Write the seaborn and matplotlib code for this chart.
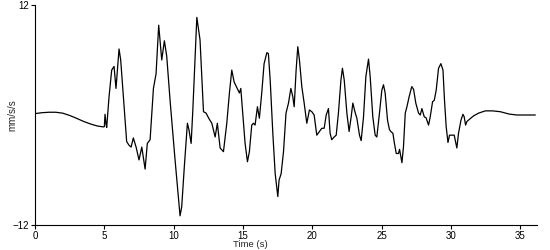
import matplotlib
matplotlib.use("Agg")
import matplotlib.pyplot as plt
import seaborn as sns
import pandas as pd

time_s = [0.0, 0.5, 1.0, 1.5, 2.0, 2.5, 3.0, 3.5, 4.0, 4.5, 4.93, 5.0, 5.05, 5.12, 5.17,
          5.34, 5.53, 5.7, 5.84, 6.06, 6.18, 6.4, 6.61, 6.78, 6.93, 7.09, 7.29, 7.5, 7.7,
          7.8, 7.94, 8.1, 8.3, 8.54, 8.73, 8.92, 9.14, 9.33, 9.5, 9.74, 10.1, 10.46, 10.58,
          10.77, 10.99, 11.1, 11.26, 11.38, 11.67, 11.9, 12.15, 12.34, 12.53, 12.75, 12.99,
          13.15, 13.35, 13.59, 13.83, 14.02, 14.19, 14.36, 14.55, 14.74, 14.84, 14.98, 15.15,
          15.32, 15.46, 15.63, 15.75, 15.87, 16.04, 16.18, 16.35, 16.52, 16.72, 16.83, 16.96,
          17.15, 17.32, 17.51, 17.6, 17.75, 17.92, 18.1, 18.28, 18.45, 18.59, 18.69, 18.83,
          18.95, 19.07, 19.24, 19.41, 19.6, 19.79, 19.96, 20.13, 20.32, 20.51, 20.68, 20.85,
          21.0, 21.16, 21.28, 21.4, 21.57, 21.72, 21.88, 22.06, 22.17, 22.3, 22.49, 22.65,
          22.8, 22.92, 23.07, 23.21, 23.4, 23.52, 23.69, 23.86, 24.05, 24.17, 24.36, 24.53,
          24.65, 24.84, 25.01, 25.13, 25.25, 25.42, 25.56, 25.66, 25.81, 25.92, 26.05, 26.21,
          26.29, 26.46, 26.57, 26.7, 26.82, 26.98, 27.17, 27.3, 27.46, 27.66, 27.78, 27.9,
          28.07, 28.2, 28.38, 28.5, 28.67, 28.79, 28.93, 29.1, 29.27, 29.42, 29.53, 29.65,
          29.78, 29.89, 30.06, 30.23, 30.42, 30.54, 30.72, 30.86, 30.95, 31.05, 31.15, 31.62,
          31.98, 32.47, 33.0, 33.55, 34.2, 34.75, 36.08]

accel = [0.15, 0.25, 0.3, 0.3, 0.2, -0.05, -0.36, -0.7, -0.98, -1.2, -1.3, -1.27, 0.08, -1.0, -1.35,
         2.0, 4.9, 5.3, 2.9, 7.2, 6.0, 1.5, -2.9, -3.3, -3.5, -2.5, -3.5, -4.9, -3.5,
         -4.5, -5.9, -3.1, -2.7, 2.9, 4.5, 9.8, 6.0, 8.1, 6.4, 1.6, -4.9, -11.0, -10.0,
         -5.6, -0.9, -1.6, -3.1, 0.5, 10.65, 8.2, 0.36, 0.2, -0.36, -0.9, -2.4,
         -0.9, -3.6, -4.0, -0.9, 2.4, 4.9, 3.6, 3.0, 2.4, 2.9, 0.2, -3.1,
         -5.1, -4.0, -1.1, -0.9, -1.1, 0.9, -0.36, 2.4, 5.6, 6.8, 6.7, 3.8,
         -2.0, -6.4, -8.9, -7.1, -6.4, -4.0, 0.2, 1.3, 2.9, 2.0, 0.9, 4.9,
         7.45, 6.0, 3.1, 1.3, -0.9, 0.55, 0.36, 0.0, -2.2, -1.8, -1.45, -1.45,
         0.0, 0.7, -2.0, -2.7, -2.4, -2.2, 0.2, 3.8, 5.1, 3.8, 0.2, -1.8,
         -0.2, 1.3, 0.36, -0.36, -2.2, -2.8, -0.2, 4.2, 6.1, 4.2, -0.2, -2.2,
         -2.4, 0.2, 2.7, 3.3, 2.4, -0.55, -1.6, -1.8, -2.0, -3.1, -4.2, -4.2,
         -3.75, -5.2, -3.5, 0.2, 0.9, 2.0, 3.1, 2.8, 1.3, 0.2, 0.0, 0.7,
         -0.2, -0.3, -1.1, -0.2, 1.45, 1.6, 2.7, 5.1, 5.6, 4.9, 1.6, -1.27,
         -3.0, -2.2, -2.2, -2.2, -3.6, -2.0, -0.55, 0.08, -0.2, -1.1, -0.7, -0.1,
         0.2, 0.45, 0.45, 0.36, 0.1, 0.0, 0.0]

x_ticks = [0, 5, 10, 15, 20, 25, 30, 35]
y_ticks = [-12, 12]

sns.set_style("white")
plt.rcParams['font.family'] = ['Liberation Sans', 'DejaVu Sans']

df = pd.DataFrame({"t": time_s, "a": accel})

fig = plt.figure(figsize=(5.5, 2.5), dpi=100)
ax = fig.add_axes([35/550, 25/250, 502/550, 220/250])
sns.lineplot(data=df, x="t", y="a", ax=ax, color="black", linewidth=0.9, sort=False)

ax.set_xlim(0, 36.2)
ax.set_ylim(-12, 12)
ax.set_xticks(x_ticks)
ax.set_yticks(y_ticks)
ax.tick_params(axis='both', direction='out', length=3, width=0.8, labelsize=7,
               colors='black', pad=1.0)
ax.tick_params(axis='y', left=True)
ax.tick_params(axis='x', bottom=True)
for s in ['top', 'right']:
    ax.spines[s].set_visible(False)
for s in ['left', 'bottom']:
    ax.spines[s].set_color('black')
    ax.spines[s].set_linewidth(0.8)

ax.set_xlabel("Time (s)", fontsize=6.8, va='top')
ax.set_ylabel("mm/s/s", fontsize=7)
ax.xaxis.set_label_coords(0.43, -0.068)
ax.yaxis.set_label_coords(-0.036, 0.5)

fig.savefig("out.png", dpi=100)
